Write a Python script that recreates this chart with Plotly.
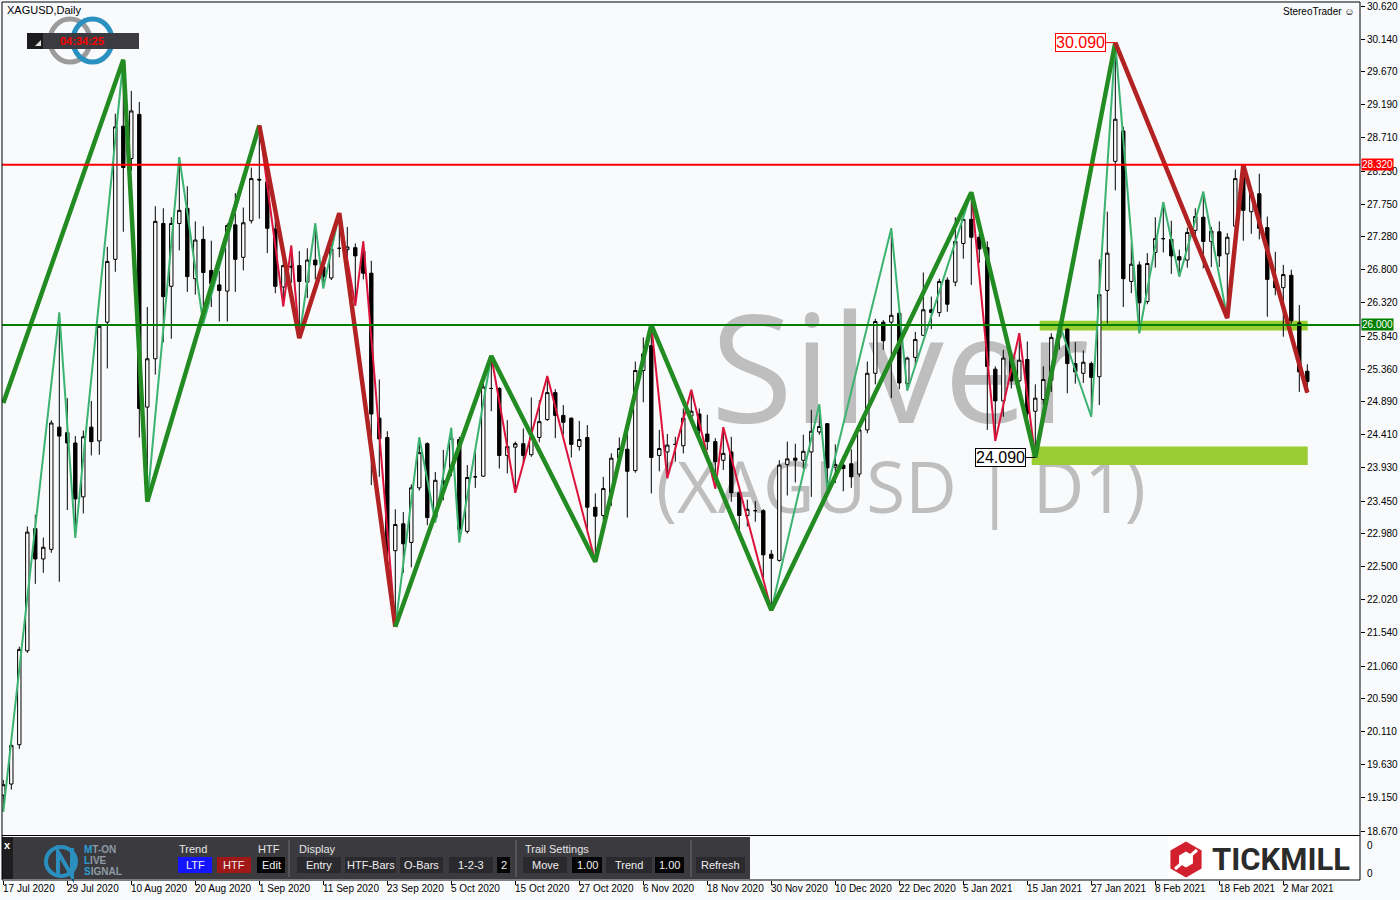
import math
import plotly.graph_objects as go

# ------------------------------------------------------------------ data
bars = list(range(164))
opens = [19.19, 19.35, 19.92, 21.28, 23.05, 22.61, 22.75, 24.52, 24.44, 24.29,
         23.51, 24.52, 24.32, 26.04, 26.95, 28.88, 28.41, 29.05, 24.81, 25.51,
         27.47, 26.56, 27.47, 27.69, 26.67, 27.24, 26.79, 26.58, 26.49, 27.45,
         26.98, 27.51, 28.11, 28.07, 27.39, 26.55, 26.85, 26.86, 26.62, 26.94,
         26.84, 26.68, 27.11, 27.09, 27.12, 27.07, 26.75, 24.65, 24.37, 22.73,
         23.12, 22.85, 23.64, 24.28, 23.21, 23.74, 23.89, 24.34, 23.01, 23.80,
         23.81, 25.08, 25.08, 24.11, 24.23, 24.28, 24.12, 24.37, 24.63, 25.02,
         24.69, 24.65, 24.24, 24.37, 23.36, 23.24, 23.56, 24.07, 24.20, 23.89,
         25.34, 25.70, 24.11, 24.16, 24.27, 24.25, 24.68, 24.71, 24.42, 24.31,
         24.04, 24.16, 23.57, 23.24, 23.31, 23.31, 22.68, 22.59, 23.98, 24.07,
         24.04, 24.16, 24.45, 24.57, 23.94, 23.97, 23.99, 23.84, 24.48, 25.30,
         26.04, 26.04, 26.17, 25.15, 25.53, 25.85, 26.22, 26.18, 26.65, 26.62,
         27.18, 27.53, 27.27, 27.12, 25.36, 24.90, 25.53, 25.19, 25.50, 24.75,
         24.92, 25.20, 25.82, 25.94, 25.44, 25.30, 25.44, 25.25, 26.50, 28.37,
         28.81, 26.63, 26.87, 26.34, 27.05, 27.25, 27.24, 26.99, 26.94, 27.37,
         27.56, 27.21, 27.35, 27.03, 27.43, 28.16, 27.64, 27.90, 27.41, 26.64,
         26.54, 26.72, 26.03, 25.33]
highs = [19.41, 19.95, 21.34, 23.08, 23.25, 22.92, 24.62, 26.18, 24.94, 24.39,
         24.47, 24.90, 26.00, 27.13, 29.06, 29.84, 29.39, 29.23, 26.26, 27.72,
         27.69, 27.56, 28.43, 28.01, 27.50, 27.43, 27.22, 26.78, 27.47, 27.91,
         27.70, 28.28, 28.89, 28.29, 27.68, 27.01, 27.15, 27.07, 27.11, 27.47,
         27.00, 27.26, 27.62, 27.42, 27.18, 27.21, 26.93, 25.21, 24.46, 23.33,
         23.29, 23.69, 24.37, 24.30, 23.87, 24.19, 24.51, 24.38, 23.97, 24.20,
         25.15, 25.55, 25.10, 24.62, 24.31, 24.50, 24.95, 24.91, 25.26, 25.07,
         24.84, 24.66, 24.61, 24.55, 23.56, 23.80, 24.14, 24.37, 24.49, 25.47,
         25.82, 26.00, 24.48, 24.42, 24.38, 24.79, 25.06, 24.79, 24.70, 24.36,
         24.52, 24.38, 23.61, 23.47, 23.45, 23.33, 22.74, 24.04, 24.31, 24.28,
         24.41, 24.77, 24.85, 24.58, 24.27, 24.11, 24.20, 24.55, 25.47, 26.09,
         26.07, 27.40, 26.20, 25.54, 25.90, 26.76, 26.41, 26.67, 26.69, 27.56,
         27.69, 27.92, 27.32, 27.21, 25.40, 25.64, 25.56, 25.88, 25.76, 25.14,
         25.40, 25.88, 26.02, 25.95, 25.75, 25.63, 25.47, 26.95, 27.64, 30.09,
         28.87, 27.18, 26.92, 27.04, 27.56, 27.78, 27.51, 27.09, 27.41, 27.69,
         27.93, 27.42, 27.50, 27.33, 28.25, 28.32, 27.99, 28.19, 27.57, 27.06,
         26.87, 26.80, 26.29, 25.43]
lows = [18.95, 19.27, 19.86, 21.25, 22.25, 22.41, 22.70, 22.28, 23.32, 22.92,
        23.27, 24.11, 24.12, 25.37, 26.77, 27.35, 28.23, 24.37, 23.44, 25.28,
        25.75, 25.80, 27.08, 26.48, 26.44, 26.02, 26.26, 26.05, 26.05, 26.48,
        26.79, 27.47, 27.54, 27.04, 26.46, 26.27, 26.61, 25.81, 26.39, 26.66,
        26.53, 26.65, 26.98, 26.86, 26.28, 26.66, 23.68, 23.80, 22.57, 21.63,
        22.41, 22.49, 23.60, 23.10, 23.14, 23.46, 23.81, 22.85, 22.98, 23.64,
        23.80, 24.75, 23.92, 23.85, 23.57, 23.99, 24.09, 24.30, 24.61, 24.36,
        24.41, 24.08, 24.18, 23.02, 22.57, 23.17, 23.38, 23.99, 23.21, 23.86,
        24.88, 23.56, 23.88, 23.78, 24.02, 24.14, 24.58, 24.33, 24.19, 23.63,
        23.90, 23.44, 22.93, 23.08, 23.15, 22.33, 21.87, 22.57, 23.53, 23.72,
        23.91, 23.51, 24.41, 23.62, 23.71, 23.59, 23.64, 23.80, 24.43, 25.14,
        25.64, 24.94, 25.07, 25.05, 25.40, 25.84, 25.94, 26.12, 26.19, 26.56,
        26.96, 26.58, 26.90, 24.48, 24.32, 24.67, 25.08, 25.18, 24.57, 24.08,
        24.84, 25.03, 25.64, 25.01, 25.15, 25.16, 24.67, 24.84, 26.02, 27.95,
        26.26, 26.46, 25.88, 26.30, 26.83, 27.05, 26.74, 26.70, 26.83, 27.25,
        26.82, 26.84, 26.84, 26.10, 27.24, 27.22, 27.32, 27.24, 26.12, 26.43,
        25.83, 26.02, 25.03, 25.02]
closes = [19.34, 19.91, 21.30, 23.00, 22.61, 22.78, 24.58, 24.39, 24.29, 23.48,
          24.38, 24.31, 25.98, 26.92, 28.87, 28.28, 29.10, 24.79, 25.51, 27.50,
          26.41, 27.47, 27.66, 26.70, 27.23, 26.76, 26.60, 26.50, 27.44, 26.95,
          27.48, 28.12, 28.10, 27.40, 26.56, 26.86, 26.84, 26.63, 26.94, 26.87,
          26.70, 27.10, 27.11, 27.13, 27.00, 26.75, 24.71, 24.35, 22.74, 23.11,
          22.83, 23.64, 24.15, 23.21, 23.75, 23.70, 24.36, 23.04, 23.79, 23.80,
          25.10, 25.08, 24.11, 24.24, 24.28, 24.11, 24.37, 24.60, 25.02, 24.69,
          24.59, 24.27, 24.34, 23.36, 23.23, 23.63, 24.07, 24.21, 23.88, 25.34,
          25.58, 24.08, 24.21, 24.26, 24.27, 24.65, 24.75, 24.47, 24.31, 24.02,
          24.14, 23.57, 23.24, 23.33, 23.31, 22.67, 22.62, 23.97, 24.06, 24.04,
          24.17, 24.46, 24.53, 23.93, 23.98, 23.92, 23.80, 24.48, 25.30, 26.05,
          25.77, 26.14, 25.16, 25.52, 25.79, 26.22, 26.18, 26.63, 26.30, 27.21,
          27.53, 27.27, 27.10, 25.40, 24.90, 25.52, 25.19, 25.49, 24.72, 24.94,
          25.21, 25.82, 25.90, 25.44, 25.32, 25.46, 25.24, 26.44, 27.04, 28.98,
          26.67, 26.88, 26.32, 26.89, 27.25, 27.25, 27.00, 26.94, 27.34, 27.57,
          27.21, 27.36, 27.00, 27.27, 28.12, 27.66, 27.92, 27.40, 26.66, 26.54,
          26.73, 26.06, 25.32, 25.18]

# higher-timeframe zigzag (thick)
htf_bar = [0, 15, 18, 32, 37, 42, 49, 61, 74, 81, 96, 121, 129, 139, 153, 155, 163]
htf_price = [24.87, 29.84, 23.44, 28.89, 25.81, 27.62, 21.63, 25.55, 22.57, 26.00,
             21.87, 27.92, 24.08, 30.09, 26.10, 28.32, 25.02]
htf_leg_trend = ["up", "up", "up", "down", "down", "down", "up", "up", "up", "up",
                 "up", "up", "up", "down", "down", "down"]

# lower-timeframe zigzag (thin)
ltf_bar = [0, 7, 9, 15, 18, 22, 25, 32, 35, 36, 37, 39, 40, 42, 44, 45, 49, 52, 54,
           56, 57, 61, 64, 68, 74, 81, 83, 86, 89, 90, 96, 102, 103, 111, 113, 121,
           124, 127, 129, 132, 136, 139, 142, 145, 147, 150, 153, 155, 163]
ltf_price = [18.95, 26.18, 22.92, 29.84, 23.44, 28.43, 26.02, 28.89, 26.27, 27.15,
             25.81, 27.47, 26.53, 27.62, 26.28, 27.21, 21.63, 24.37, 23.14, 24.51,
             22.85, 25.55, 23.57, 25.26, 22.57, 26.00, 23.78, 25.06, 23.63, 24.52,
             21.87, 24.85, 23.62, 27.40, 25.05, 27.92, 24.32, 25.88, 24.08, 26.02,
             24.67, 30.09, 25.88, 27.78, 26.70, 27.93, 26.10, 28.32, 25.02]
ltf_leg_trend = ["up"] * 7 + ["down"] * 3 + ["up"] * 3 + ["down"] * 3 + ["up"] * 5 + \
                ["down"] * 3 + ["up"] + ["down"] * 5 + ["up"] * 5 + ["down"] * 3 + \
                ["up"] * 8 + ["down"] * 2

resistance_level = 28.32
support_level = 26.00
zone_upper = (130, 163, 25.92, 26.06)
zone_lower = (129, 163, 23.97, 24.24)
label_high = (139, 30.09, "30.090")
label_low = (129, 24.08, "24.090")

date_bar = list(range(0, 161, 8))
date_text = ["17 Jul 2020", "29 Jul 2020", "10 Aug 2020", "20 Aug 2020", "1 Sep 2020",
             "11 Sep 2020", "23 Sep 2020", "5 Oct 2020", "15 Oct 2020", "27 Oct 2020",
             "6 Nov 2020", "18 Nov 2020", "30 Nov 2020", "10 Dec 2020", "22 Dec 2020",
             "5 Jan 2021", "15 Jan 2021", "27 Jan 2021", "8 Feb 2021", "18 Feb 2021",
             "2 Mar 2021"]
price_ticks = [30.620, 30.140, 29.670, 29.190, 28.710, 28.230, 27.750, 27.280, 26.800,
               26.320, 25.840, 25.360, 24.890, 24.410, 23.930, 23.450, 22.980, 22.500,
               22.020, 21.540, 21.060, 20.590, 20.110, 19.630, 19.150, 18.670]

# ------------------------------------------------------------------ geometry
W, H = 1400, 900
PL, PR, PT, PB = 2, 1360, 2, 880          # plot area in pixels
K = (30.620 - 18.670) / 825.0             # price per pixel
Y_TOP = 30.620 + 4 * K
Y_BOT = 30.620 - 874 * K
X_LEFT = (PL - 3.3) / 8.0
X_RIGHT = (PR - 3.3) / 8.0


def fx(px):
    return (px - PL) / (PR - PL)


def fy(py):
    return (PB - py) / (PB - PT)


BG = "#F8FAFC"
fig = go.Figure()

# ------------------------------------------------------------------ watermark (below traces)
fig.add_shape(type="rect", xref="x", yref="y", x0=92, x1=132.2,
              y0=25.268 - 0.5, y1=25.268 + 0.5, layer="below",
              line=dict(width=0, color="rgba(0,0,0,0)"), fillcolor="rgba(0,0,0,0)",
              label=dict(text="Silver", textposition="middle center",
                         font=dict(family="Open Sans", size=150, color="#BEBEBE")))
fig.add_shape(type="rect", xref="x", yref="y", x0=92, x1=132.4,
              y0=23.595 - 0.5, y1=23.595 + 0.5, layer="below",
              line=dict(width=0, color="rgba(0,0,0,0)"), fillcolor="rgba(0,0,0,0)",
              label=dict(text="(XAGUSD | D1)", textposition="middle center",
                         font=dict(family="Open Sans", size=71, color="#BEBEBE")))

# zones
for (b0, b1, p0, p1) in (zone_upper, zone_lower):
    fig.add_shape(type="rect", xref="x", yref="y", x0=b0 - 0.45, x1=b1 + 0.05,
                  y0=p0, y1=p1, layer="below", line=dict(width=0),
                  fillcolor="#9ACD32")

# ------------------------------------------------------------------ candles
fig.add_trace(go.Candlestick(
    x=bars, open=opens, high=highs, low=lows, close=closes,
    increasing=dict(line=dict(color="black", width=1), fillcolor="white"),
    decreasing=dict(line=dict(color="black", width=1), fillcolor="black"),
    whiskerwidth=0, hoverinfo="skip", showlegend=False))


def add_zigzag(pbars, pprices, trends, up_col, dn_col, width):
    runs = []
    cur = None
    for i, t in enumerate(trends):
        if cur is None or cur[0] != t:
            cur = [t, [pbars[i]], [pprices[i]]]
            runs.append(cur)
        cur[1].append(pbars[i + 1])
        cur[2].append(pprices[i + 1])
    for t, xs, ys in runs:
        fig.add_trace(go.Scatter(x=xs, y=ys, mode="lines",
                                 line=dict(color=up_col if t == "up" else dn_col, width=width),
                                 hoverinfo="skip", showlegend=False))


add_zigzag(ltf_bar, ltf_price, ltf_leg_trend, "#3CB371", "#DC143C", 2)
add_zigzag(htf_bar, htf_price, htf_leg_trend, "#228B22", "#B22222", 4.5)

# horizontal levels
fig.add_shape(type="line", xref="paper", yref="y", x0=0, x1=1, y0=resistance_level,
              y1=resistance_level, line=dict(color="#FF0000", width=2))
fig.add_shape(type="line", xref="paper", yref="y", x0=0, x1=1, y0=support_level,
              y1=support_level, line=dict(color="#008000", width=2))

annotations = []


def ptext(px, py, text, size=11, color="black", xanchor="center", family="Liberation Sans"):
    annotations.append(dict(x=fx(px), y=fy(py), xref="paper", yref="paper",
                            xanchor=xanchor, yanchor="middle", text=text, showarrow=False,
                            font=dict(family=family, size=size, color=color)))


# swing labels
annotations.append(dict(x=label_high[0], y=label_high[1], xref="x", yref="y",
                        text=label_high[2], showarrow=True, arrowhead=0, arrowwidth=1,
                        arrowcolor="#FF0000", ax=-35, ay=0, standoff=0,
                        font=dict(family="Liberation Sans", size=16, color="#FF0000"),
                        bgcolor="white", bordercolor="#FF0000", borderwidth=1, borderpad=0))
annotations.append(dict(x=label_low[0], y=label_low[1], xref="x", yref="y",
                        text=label_low[2], showarrow=True, arrowhead=0, arrowwidth=1,
                        arrowcolor="black", ax=-35, ay=0, standoff=0,
                        font=dict(family="Liberation Sans", size=16, color="black"),
                        bgcolor="white", bordercolor="black", borderwidth=1, borderpad=0))

# price-axis level tags
for lvl, col in ((resistance_level, "#FF0000"), (support_level, "#008000")):
    annotations.append(dict(x=1, xref="paper", xanchor="left", xshift=1, y=lvl,
                            yref="y", yanchor="middle", text=f"{lvl:.3f}", showarrow=False,
                            bgcolor=col, font=dict(family="Liberation Sans", size=10, color="white"),
                            borderpad=0))

# date labels
for b, t in zip(date_bar, date_text):
    annotations.append(dict(x=b, xref="x", xanchor="left", xshift=-2, y=fy(888),
                            yref="paper", yanchor="middle", text=t, showarrow=False,
                            font=dict(family="Liberation Sans", size=10, color="black")))

# sub-window axis labels
for py in (845, 873):
    ptext(1365, py, "0", size=10, xanchor="left")

# top texts
ptext(5, 10, "XAGUSD,Daily", size=11, xanchor="left")
ptext(1357, 12, "StereoTrader \u263A", size=10, xanchor="right")

shapes_top = []
# logo rings top-left
shapes_top.append(dict(type="circle", xref="paper", yref="paper", x0=fx(50), x1=fx(90),
                       y0=fy(62), y1=fy(19), line=dict(color="#9B9B9B", width=5)))
shapes_top.append(dict(type="circle", xref="paper", yref="paper", x0=fx(73), x1=fx(112),
                       y0=fy(62), y1=fy(19), line=dict(color="#2A90BF", width=5)))
# timer box
shapes_top.append(dict(type="rect", xref="paper", yref="paper", x0=fx(27), x1=fx(139),
                       y0=fy(49), y1=fy(33), line=dict(width=0), fillcolor="#3C3B41"))
shapes_top.append(dict(type="rect", xref="paper", yref="paper", x0=fx(27), x1=fx(43),
                       y0=fy(49), y1=fy(33), line=dict(width=0), fillcolor="#1C1C1E"))
shapes_top.append(dict(type="path", xref="paper", yref="paper",
                       path=f"M {fx(35)} {fy(46)} L {fx(41)} {fy(46)} L {fx(41)} {fy(40)} Z",
                       line=dict(width=0), fillcolor="#E0E0E0"))
ptext(82, 41, "<b>04:34:25</b>", size=11, color="#FF0000")

# separator between main window and sub-window
shapes_top.append(dict(type="line", xref="paper", yref="paper", x0=0, x1=1, y0=fy(835.5),
                       y1=fy(835.5), line=dict(color="black", width=1)))

# ------------------------------------------------------------------ toolbar
shapes_top.append(dict(type="rect", xref="paper", yref="paper", x0=fx(2), x1=fx(750),
                       y0=fy(879), y1=fy(837), line=dict(width=0), fillcolor="#3B3A3F"))
shapes_top.append(dict(type="rect", xref="paper", yref="paper", x0=fx(2), x1=fx(13),
                       y0=fy(879), y1=fy(837), line=dict(width=0), fillcolor="#1E1E20"))
ptext(7.5, 845, "<b>x</b>", size=11, color="white")
# MT-ON logo mark
shapes_top.append(dict(type="circle", xref="paper", yref="paper", x0=fx(46), x1=fx(76),
                       y0=fy(876), y1=fy(847), line=dict(color="#2A8FBF", width=4)))
shapes_top.append(dict(type="path", xref="paper", yref="paper",
                       path=f"M {fx(58)} {fy(876)} L {fx(58)} {fy(852)} L {fx(72)} {fy(876)} L {fx(72)} {fy(848)}",
                       line=dict(color="#2A8FBF", width=4)))
for txt, py in (("MT-ON", 849), ("LIVE", 860), ("SIGNAL", 871)):
    ptext(82, py, f"<b><span style='color:#2A9FD6'>{txt[0]}</span>{txt[1:]}</b>",
          size=10, color="#8E9AA4", xanchor="left")

for txt, px in (("Trend", 177), ("HTF", 256), ("Display", 297), ("Trail Settings", 523)):
    ptext(px, 849, txt, size=11, color="#E6E6E6", xanchor="left")

buttons = [(178, 212, "#1414FF", "LTF"), (217, 251, "#A01818", "HTF"), (257, 285, "#050505", "Edit"),
           (297, 341, "#2A292E", "Entry"), (345, 396, "#2A292E", "HTF-Bars"),
           (400, 443, "#2A292E", "O-Bars"), (449, 493, "#2A292E", "1-2-3"),
           (497, 510, "#050505", "2"), (523, 567, "#2A292E", "Move"), (572, 602, "#050505", "1.00"),
           (606, 652, "#2A292E", "Trend"), (655, 684, "#050505", "1.00"),
           (696, 745, "#2A292E", "Refresh")]
for x0, x1, col, txt in buttons:
    shapes_top.append(dict(type="rect", xref="paper", yref="paper", x0=fx(x0), x1=fx(x1),
                           y0=fy(873), y1=fy(857), line=dict(width=0), fillcolor=col))
    ptext((x0 + x1) / 2, 865, txt, size=11, color="#F0F0F0")
for px in (289, 516, 691):
    shapes_top.append(dict(type="line", xref="paper", yref="paper", x0=fx(px), x1=fx(px),
                           y0=fy(877), y1=fy(840), line=dict(color="#707070", width=1)))

# ------------------------------------------------------------------ Tickmill logo
shapes_top.append(dict(type="rect", xref="paper", yref="paper", x0=fx(1168), x1=fx(1359.5),
                       y0=fy(879), y1=fy(836.5), line=dict(width=0), fillcolor="white"))


def hexpath(cx, cy, r):
    pts = []
    for a in (90, 150, 210, 270, 330, 30):
        pts.append((cx + r * math.cos(math.radians(a)), cy - r * math.sin(math.radians(a))))
    return "M " + " L ".join(f"{fx(x)} {fy(y)}" for x, y in pts) + " Z"


shapes_top.append(dict(type="path", xref="paper", yref="paper", path=hexpath(1186, 859.5, 18),
                       line=dict(width=0), fillcolor="#D3202F"))
shapes_top.append(dict(type="path", xref="paper", yref="paper", path=hexpath(1186, 859.5, 8),
                       line=dict(width=0), fillcolor="white"))
shapes_top.append(dict(type="line", xref="paper", yref="paper", x0=fx(1175), x1=fx(1197),
                       y0=fy(869), y1=fy(850), line=dict(color="white", width=3)))
ptext(1210, 859, "<b>TICKMILL</b>", size=31, color="#2B2B2B", xanchor="left", family="Roboto")

# frame
shapes_top.append(dict(type="rect", xref="paper", yref="paper", x0=0, x1=1, y0=0, y1=1,
                       line=dict(color="black", width=1)))

for s in shapes_top:
    fig.add_shape(**s)

fig.update_layout(
    width=W, height=H,
    margin=dict(l=PL, r=W - PR, t=PT, b=H - PB, autoexpand=False),
    paper_bgcolor=BG, plot_bgcolor=BG,
    showlegend=False, boxgap=0.4, hovermode=False,
    annotations=annotations,
    xaxis=dict(range=[X_LEFT, X_RIGHT], rangeslider=dict(visible=False), showgrid=False,
               zeroline=False, showline=False, ticks="outside", ticklen=4, tickcolor="black",
               tickvals=date_bar, showticklabels=False, fixedrange=True, automargin=False),
    yaxis=dict(side="right", range=[Y_BOT, Y_TOP], tickvals=price_ticks,
               ticktext=[f"{v:.3f}" for v in price_ticks], ticks="outside", ticklen=4,
               tickcolor="black", showgrid=False, zeroline=False, showline=False,
               tickfont=dict(family="Liberation Sans", size=10, color="black"),
               fixedrange=True, automargin=False),
)

fig.write_html("out.html", post_script="document.body.style.margin='0px';",
               config={"displayModeBar": False})
